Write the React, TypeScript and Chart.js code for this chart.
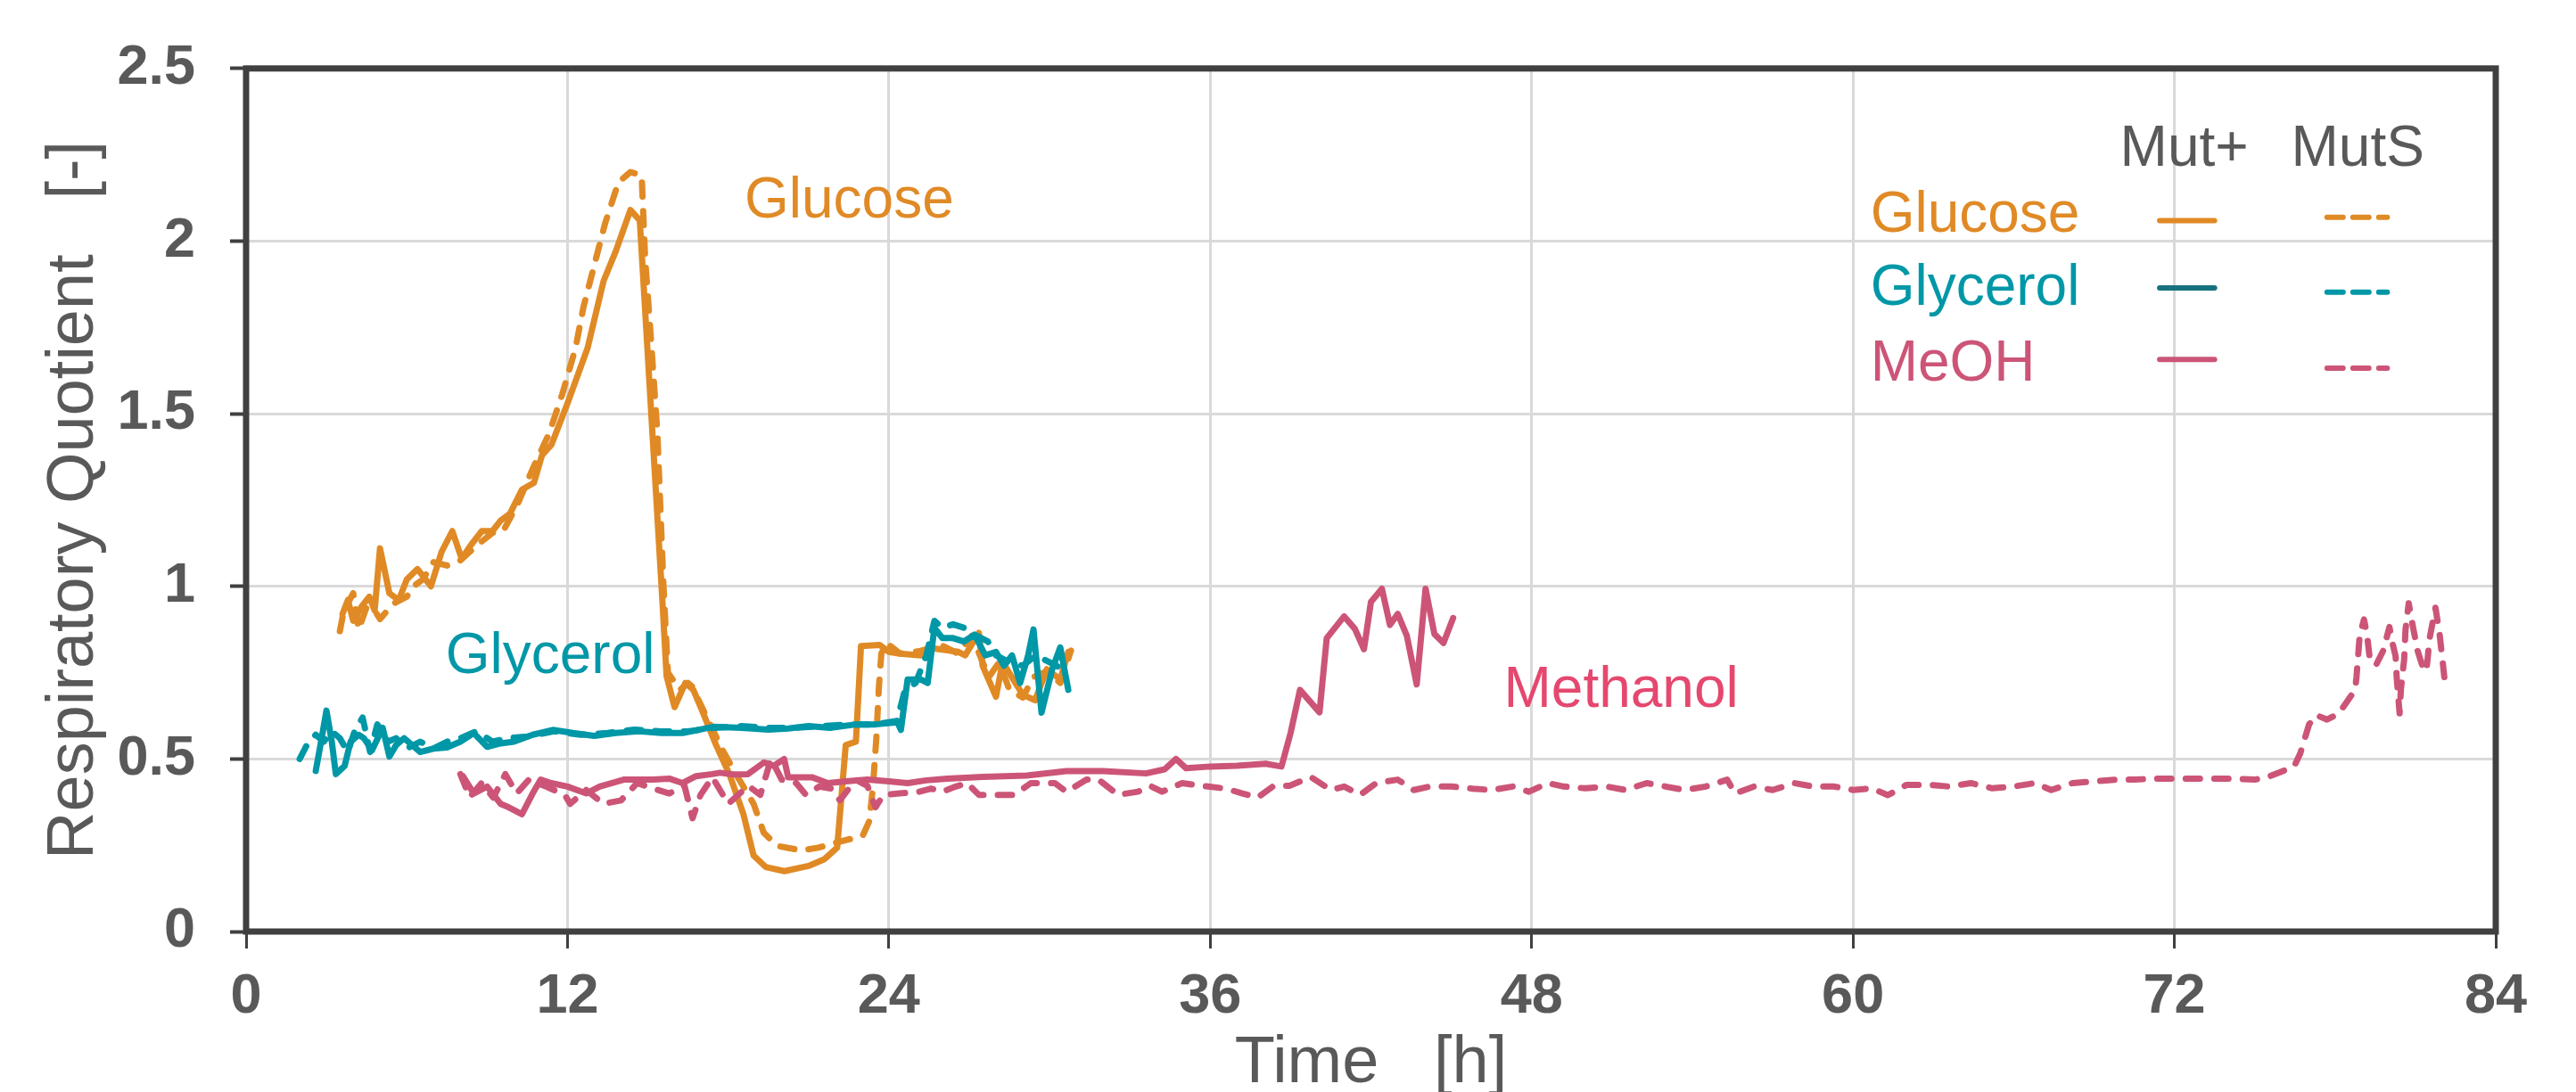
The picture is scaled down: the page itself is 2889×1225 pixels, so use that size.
import { useEffect, useRef } from "react";
import { Chart, registerables } from "chart.js";

Chart.register(...registerables);

const FONT = '"Liberation Sans", Arial, Helvetica, sans-serif';

// ---- data (time in h, respiratory quotient) ----
const glucoseMutPlusT = [3.6, 3.8, 4.0, 4.3, 4.6, 4.8, 5.0, 5.35, 5.7, 6.0, 6.4, 6.9, 7.3, 7.7, 8.05, 8.4, 8.8, 9.2, 9.5, 9.85, 10.3, 10.75, 11.05, 11.4, 12.0, 12.75, 13.35, 13.8, 14.35, 14.7, 15.55, 15.7, 16.0, 16.4, 16.7, 17.0, 17.55, 18.05, 18.57, 18.95, 19.4, 20.1, 21.0, 21.6, 22.07, 22.39, 22.77, 22.96, 23.66, 24.0, 24.4, 25.2, 25.7, 26.6, 26.85, 27.36, 27.5, 28.0, 28.25, 29.0, 29.46, 29.9, 30.4, 30.7];
const glucoseMutPlusRQ = [0.92, 0.96, 0.9, 0.94, 0.97, 0.93, 1.11, 0.98, 0.96, 1.02, 1.05, 1.0, 1.1, 1.16, 1.08, 1.12, 1.16, 1.16, 1.19, 1.21, 1.28, 1.3, 1.38, 1.41, 1.53, 1.69, 1.885, 1.97, 2.09, 2.06, 0.95, 0.74, 0.65, 0.72, 0.7, 0.645, 0.54, 0.455, 0.34, 0.22, 0.187, 0.175, 0.19, 0.21, 0.243, 0.54, 0.55, 0.827, 0.83, 0.81, 0.805, 0.8, 0.82, 0.81, 0.8, 0.865, 0.77, 0.68, 0.78, 0.686, 0.67, 0.76, 0.73, 0.81];

const glucoseMutST = [3.5, 3.65, 4.0, 4.2, 4.5, 4.8, 5.0, 5.5, 6.0, 6.25, 6.6, 7.0, 7.5, 8.0, 8.35, 8.8, 9.2, 9.6, 10.15, 10.7, 11.3, 11.8, 12.3, 12.6, 13.0, 13.4, 13.9, 14.35, 14.77, 14.9, 15.14, 15.36, 15.58, 15.75, 16.2, 16.5, 16.65, 17.16, 17.8, 18.3, 18.95, 19.33, 19.84, 20.73, 21.37, 22.14, 23.02, 23.27, 23.4, 23.53, 23.63, 23.72, 23.91, 24.42, 25.19, 25.94, 26.59, 27.1, 27.73, 28.12, 28.5, 29.0, 29.4, 29.9, 30.4, 30.8];
const glucoseMutSRQ = [0.87, 0.93, 0.98, 0.875, 0.94, 0.93, 0.905, 0.95, 0.97, 1.0, 1.02, 1.07, 1.06, 1.075, 1.1, 1.13, 1.155, 1.16, 1.24, 1.34, 1.44, 1.555, 1.69, 1.81, 1.93, 2.05, 2.17, 2.2, 2.19, 1.95, 1.69, 1.44, 1.01, 0.75, 0.7, 0.72, 0.71, 0.627, 0.524, 0.455, 0.37, 0.286, 0.248, 0.235, 0.243, 0.26, 0.277, 0.32, 0.414, 0.557, 0.71, 0.805, 0.836, 0.805, 0.813, 0.83, 0.805, 0.857, 0.737, 0.78, 0.7, 0.678, 0.737, 0.754, 0.72, 0.814];

const glycerolMutPlusT = [2.6, 2.8, 3.0, 3.2, 3.35, 3.68, 3.9, 4.2, 4.4, 4.7, 5.1, 5.35, 5.6, 5.9, 6.2, 6.5, 7.0, 7.5, 8.0, 8.5, 9.0, 9.5, 10.0, 10.7, 11.45, 12.2, 13.0, 13.8, 14.67, 15.5, 16.3, 17.44, 18.5, 19.5, 20.24, 21.0, 21.8, 22.76, 23.5, 24.32, 24.45, 24.7, 25.2, 25.45, 25.7, 26.0, 26.4, 26.8, 27.2, 27.6, 28.0, 28.3, 28.6, 28.9, 29.2, 29.4, 29.7, 30.1, 30.4, 30.7];
const glycerolMutPlusRQ = [0.465, 0.55, 0.64, 0.55, 0.456, 0.48, 0.55, 0.57, 0.56, 0.525, 0.59, 0.507, 0.54, 0.56, 0.54, 0.52, 0.53, 0.533, 0.55, 0.575, 0.535, 0.545, 0.55, 0.57, 0.584, 0.575, 0.567, 0.575, 0.58, 0.575, 0.575, 0.593, 0.59, 0.585, 0.588, 0.595, 0.59, 0.6, 0.6, 0.606, 0.584, 0.73, 0.73, 0.72, 0.88, 0.85, 0.85, 0.84, 0.86, 0.8, 0.81, 0.77, 0.8, 0.72, 0.8, 0.875, 0.634, 0.76, 0.823, 0.7];

const glycerolMutST = [2.0, 2.3, 2.6, 2.9, 3.2, 3.5, 3.8, 4.05, 4.35, 4.63, 4.9, 5.3, 5.6, 6.0, 6.5, 7.0, 7.5, 8.0, 8.6, 9.2, 9.8, 10.5, 11.5, 12.5, 13.5, 14.5, 15.5, 16.5, 17.5, 18.5, 19.5, 20.5, 21.5, 22.5, 23.5, 24.3, 24.6, 25.0, 25.4, 25.7, 26.0, 26.4, 26.8, 27.2, 27.7, 28.0, 28.5, 29.0, 29.5, 30.0, 30.5];
const glycerolMutSRQ = [0.5, 0.545, 0.57, 0.55, 0.58, 0.56, 0.52, 0.58, 0.62, 0.52, 0.6, 0.55, 0.56, 0.53, 0.55, 0.53, 0.55, 0.56, 0.58, 0.55, 0.56, 0.565, 0.58, 0.57, 0.575, 0.585, 0.58, 0.58, 0.59, 0.595, 0.59, 0.59, 0.595, 0.6, 0.6, 0.61, 0.7, 0.72, 0.8, 0.9, 0.88, 0.89, 0.88, 0.86, 0.84, 0.8, 0.78, 0.77, 0.8, 0.78, 0.76];

const meohMutPlusT = [8.1, 8.5, 9.0, 9.5, 9.8, 10.3, 10.7, 11.0, 11.4, 12.0, 12.7, 13.2, 14.1, 15.2, 15.8, 16.3, 16.8, 17.4, 17.7, 18.2, 18.74, 19.34, 19.7, 20.09, 20.24, 21.13, 21.72, 22.4, 23.2, 24.0, 24.7, 25.4, 26.18, 27.5, 29.15, 30.63, 32.0, 33.6, 34.3, 34.72, 35.1, 36.0, 37.0, 38.07, 38.66, 39.0, 39.35, 40.08, 40.35, 41.0, 41.4, 41.74, 42.0, 42.41, 42.71, 43.0, 43.34, 43.71, 44.04, 44.37, 44.71, 45.07];
const meohMutPlusRQ = [0.45, 0.4, 0.42, 0.37, 0.36, 0.34, 0.4, 0.44, 0.43, 0.42, 0.4, 0.42, 0.44, 0.44, 0.443, 0.43, 0.45, 0.456, 0.46, 0.455, 0.456, 0.49, 0.48, 0.5, 0.447, 0.447, 0.43, 0.435, 0.44, 0.435, 0.43, 0.438, 0.443, 0.448, 0.452, 0.465, 0.465, 0.458, 0.47, 0.5, 0.473, 0.478, 0.48, 0.486, 0.478, 0.575, 0.7, 0.635, 0.85, 0.913, 0.877, 0.818, 0.955, 0.993, 0.888, 0.92, 0.857, 0.716, 0.993, 0.862, 0.836, 0.908];

const meohMutST = [8.0, 8.35, 8.79, 9.23, 9.68, 10.1, 10.56, 11.2, 11.9, 12.1, 12.7, 13.34, 14.0, 14.6, 15.22, 15.8, 16.37, 16.67, 16.97, 17.41, 18.0, 18.75, 19.2, 19.6, 20.0, 20.54, 20.9, 21.4, 21.87, 22.17, 22.76, 23.2, 23.5, 23.8, 24.4, 25.13, 25.58, 26.0, 26.5, 26.92, 27.36, 27.96, 28.69, 29.3, 30.2, 30.63, 31.38, 31.83, 32.56, 33.3, 33.76, 34.2, 34.95, 35.7, 36.6, 37.2, 37.77, 38.37, 38.96, 39.75, 40.5, 41.0, 41.6, 42.2, 43.0, 43.6, 44.2, 45.0, 45.8, 46.5, 47.3, 47.9, 48.6, 49.2, 50.0, 50.8, 51.5, 52.3, 53.0, 53.7, 54.5, 55.3, 55.6, 56.3, 57.0, 57.8, 58.5, 59.3, 60.0, 60.7, 61.3, 62.0, 62.8, 63.6, 64.4, 65.2, 66.0, 66.8, 67.4, 68.2, 69.0, 69.8, 70.5, 71.3, 72.37, 73.3, 74.26, 75.0, 75.47, 76.47, 76.7, 77.03, 77.3, 77.7, 78.13, 78.75, 78.8, 78.92, 79.08, 79.19, 79.3, 79.53, 79.8, 80.03, 80.13, 80.26, 80.3, 80.41, 80.46, 80.58, 80.63, 80.75, 80.91, 81.08, 81.25, 81.41, 81.53, 81.75, 81.91, 82.02, 82.08];
const meohMutSRQ = [0.456, 0.389, 0.43, 0.388, 0.456, 0.4, 0.44, 0.42, 0.396, 0.37, 0.41, 0.37, 0.38, 0.43, 0.414, 0.4, 0.422, 0.328, 0.396, 0.447, 0.37, 0.422, 0.396, 0.5, 0.44, 0.43, 0.396, 0.42, 0.414, 0.38, 0.44, 0.422, 0.36, 0.396, 0.4, 0.405, 0.414, 0.405, 0.42, 0.43, 0.396, 0.396, 0.396, 0.43, 0.43, 0.405, 0.44, 0.44, 0.396, 0.405, 0.422, 0.405, 0.43, 0.422, 0.414, 0.4, 0.388, 0.422, 0.422, 0.448, 0.41, 0.42, 0.396, 0.43, 0.44, 0.41, 0.42, 0.42, 0.414, 0.41, 0.42, 0.405, 0.43, 0.42, 0.415, 0.42, 0.41, 0.43, 0.42, 0.41, 0.42, 0.44, 0.4, 0.42, 0.41, 0.43, 0.42, 0.42, 0.41, 0.415, 0.395, 0.425, 0.425, 0.42, 0.43, 0.415, 0.42, 0.43, 0.41, 0.43, 0.435, 0.44, 0.44, 0.443, 0.443, 0.443, 0.443, 0.44, 0.447, 0.478, 0.516, 0.6, 0.627, 0.614, 0.631, 0.7, 0.737, 0.857, 0.904, 0.862, 0.788, 0.772, 0.814, 0.882, 0.84, 0.798, 0.737, 0.632, 0.703, 0.788, 0.874, 0.951, 0.882, 0.814, 0.772, 0.754, 0.849, 0.938, 0.857, 0.78, 0.737];

const xTickLabels = ["0", "12", "24", "36", "48", "60", "72", "84"];
const yTickLabels = ["0", "0.5", "1", "1.5", "2", "2.5"];

const substrateNames = ["Glucose", "Glycerol", "MeOH"];
const strainNames = ["Mut+", "MutS"];

// ---- styles ----
const ORANGE = "#E08A26";
const TEAL = "#0097A7";
const TEAL_DARK = "#17727E";
const PINK = "#CC5577";
const PINK_LABEL = "#E5486F";
const GRAY = "#595959";
const AXIS = "#404040";
const GRID = "#D9D9D9";
const LINE_W = 7;
const DASH = [16, 16];

const pts = (t: number[], v: number[]) => t.map((x, i) => ({ x, y: v[i] }));

const labelsPlugin = {
  id: "rqLabels",
  afterDatasetsDraw(chart: any) {
    const { ctx, chartArea, scales } = chart;
    const X = (v: number) => scales.x.getPixelForValue(v);
    const Y = (v: number) => scales.y.getPixelForValue(v);
    ctx.save();
    // frame
    ctx.strokeStyle = AXIS;
    ctx.lineWidth = 7;
    ctx.strokeRect(chartArea.left, chartArea.top, chartArea.right - chartArea.left, chartArea.bottom - chartArea.top);

    ctx.textAlign = "left";
    ctx.textBaseline = "alphabetic";
    ctx.font = `64px ${FONT}`;
    // in-plot labels
    ctx.fillStyle = ORANGE;
    ctx.fillText("Glucose", X(18.61), Y(2.068));
    ctx.fillStyle = TEAL;
    ctx.fillText("Glycerol", X(7.45), Y(0.749));
    ctx.fillStyle = PINK_LABEL;
    ctx.fillText("Methanol", X(46.96), Y(0.65));

    // legend headers
    ctx.fillStyle = GRAY;
    ctx.fillText(strainNames[0], X(69.97), Y(2.217));
    ctx.fillText(strainNames[1], X(76.36), Y(2.217));

    const rows = [
      { name: substrateNames[0], text: ORANGE, solid: ORANGE, dash: ORANGE, base: 2.028, ys: 2.059, yd: 2.069 },
      { name: substrateNames[1], text: TEAL, solid: TEAL_DARK, dash: TEAL, base: 1.816, ys: 1.864, yd: 1.852 },
      { name: substrateNames[2], text: PINK, solid: PINK, dash: PINK, base: 1.596, ys: 1.657, yd: 1.632 },
    ];
    ctx.lineCap = "round";
    ctx.lineWidth = 6;
    rows.forEach((r) => {
      ctx.fillStyle = r.text;
      ctx.fillText(r.name, X(60.65), Y(r.base));
      ctx.setLineDash([]);
      ctx.strokeStyle = r.solid;
      ctx.beginPath();
      ctx.moveTo(X(71.45), Y(r.ys));
      ctx.lineTo(X(73.5), Y(r.ys));
      ctx.stroke();
      ctx.setLineDash([18, 11]);
      ctx.strokeStyle = r.dash;
      ctx.beginPath();
      ctx.moveTo(X(77.7), Y(r.yd));
      ctx.lineTo(X(79.95), Y(r.yd));
      ctx.stroke();
    });
    ctx.restore();
  },
};

export default function App() {
  const ref = useRef<HTMLCanvasElement | null>(null);

  useEffect(() => {
    document.body.style.margin = "0";
    document.body.style.overflow = "hidden";
    const canvas = ref.current;
    if (!canvas) return;

    const solid = (data: any[], color: string) => ({
      data,
      borderColor: color,
      backgroundColor: color,
      borderWidth: LINE_W,
      pointRadius: 0,
      tension: 0,
      fill: false,
      borderJoinStyle: "round",
      borderCapStyle: "round",
    });
    const dashed = (data: any[], color: string) => ({
      ...solid(data, color),
      borderDash: DASH,
    });

    const chart = new Chart(canvas, {
      type: "line",
      data: {
        datasets: [
          dashed(pts(meohMutST, meohMutSRQ), PINK),
          solid(pts(meohMutPlusT, meohMutPlusRQ), PINK),
          dashed(pts(glycerolMutST, glycerolMutSRQ), TEAL),
          solid(pts(glycerolMutPlusT, glycerolMutPlusRQ), TEAL),
          dashed(pts(glucoseMutST, glucoseMutSRQ), ORANGE),
          solid(pts(glucoseMutPlusT, glucoseMutPlusRQ), ORANGE),
        ] as any,
      },
      options: {
        animation: false,
        responsive: false,
        devicePixelRatio: 1,
        layout: { padding: { left: 0, right: 90, top: 67, bottom: 0 } },
        plugins: { legend: { display: false }, tooltip: { enabled: false } },
        scales: {
          x: {
            type: "linear",
            min: 0,
            max: 84,
            afterFit: (s: any) => {
              s.height = 180;
            },
            afterBuildTicks: (s: any) => {
              s.ticks = xTickLabels.map((l) => ({ value: Number(l) }));
            },
            ticks: {
              autoSkip: false,
              maxRotation: 0,
              padding: 17,
              color: GRAY,
              font: { family: FONT, size: 63, weight: "bold" },
              callback: (v: any) => xTickLabels[xTickLabels.indexOf(String(v))] ?? "",
            },
            grid: { color: GRID, lineWidth: 3, tickColor: AXIS, tickWidth: 3, tickLength: 19 },
            border: { display: false },
            title: {
              display: true,
              text: "Time   [h]",
              color: GRAY,
              font: { family: FONT, size: 74, lineHeight: 0.8 },
              padding: { top: 0, bottom: 2 },
            },
          },
          y: {
            type: "linear",
            min: 0,
            max: 2.5,
            afterFit: (s: any) => {
              s.width = 276;
            },
            afterBuildTicks: (s: any) => {
              s.ticks = yTickLabels.map((l) => ({ value: Number(l) }));
            },
            ticks: {
              padding: 39,
              color: GRAY,
              font: { family: FONT, size: 63, weight: "bold" },
              callback: (v: any) => yTickLabels[yTickLabels.indexOf(String(v))] ?? "",
            },
            grid: { color: GRID, lineWidth: 3, tickColor: AXIS, tickWidth: 4, tickLength: 18 },
            border: { display: false },
            title: {
              display: true,
              text: "Respiratory Quotient   [-]",
              color: GRAY,
              font: { family: FONT, size: 74, lineHeight: 0.8 },
              padding: { top: 54, bottom: 0 },
            },
          },
        },
      } as any,
      plugins: [labelsPlugin],
    });
    return () => chart.destroy();
  }, []);

  return <canvas ref={ref} width={2889} height={1225} style={{ display: "block" }} />;
}
